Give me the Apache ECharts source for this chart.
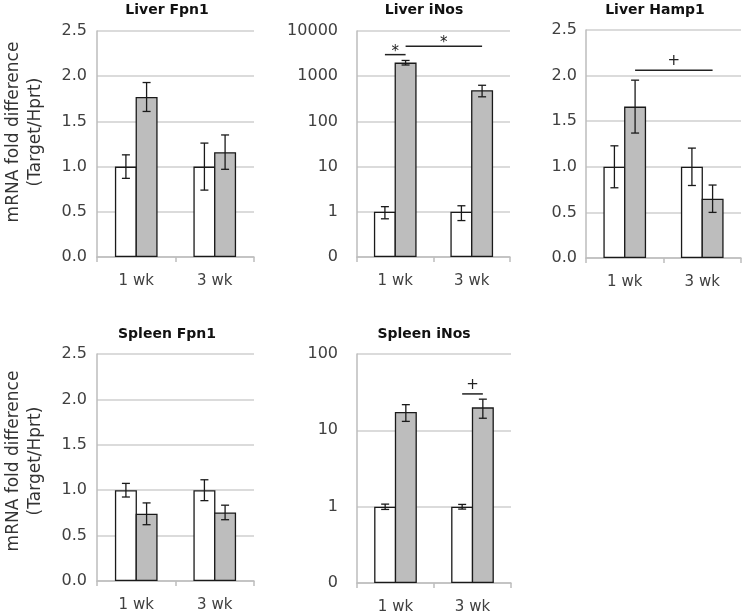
<!DOCTYPE html>
<html><head><meta charset="utf-8">
<script src="https://cdn.jsdelivr.net/npm/echarts@6/dist/echarts.min.js"></script>
<style>html,body{margin:0;padding:0;background:#fff}#c{width:742px;height:615px}</style>
</head><body><div id="c"></div>
<script>
// ---- data ----
const categories = ['1 wk', '3 wk'];
const liverFpn1Ctrl = [1.0, 1.0],  liverFpn1CtrlErr = [0.13, 0.26];
const liverFpn1Inf  = [1.77, 1.16], liverFpn1InfErr = [0.16, 0.19];
const liverINosCtrl = [1, 1],       liverINosCtrlErr = [0.3, 0.36];
const liverINosInf  = [2000, 490],  liverINosInfErr = [230, 140];
const liverHamp1Ctrl = [1, 1],      liverHamp1CtrlErr = [0.23, 0.205];
const liverHamp1Inf  = [1.66, 0.65], liverHamp1InfErr = [0.29, 0.15];
const spleenFpn1Ctrl = [1, 1],      spleenFpn1CtrlErr = [0.075, 0.115];
const spleenFpn1Inf  = [0.74, 0.755], spleenFpn1InfErr = [0.12, 0.08];
const spleenINosCtrl = [1, 1],      spleenINosCtrlErr = [0.08, 0.07];
const spleenINosInf  = [17.4, 20.0], spleenINosInfErr = [4.3, 5.6];
const linearTickLabels = ['0.0', '0.5', '1.0', '1.5', '2.0', '2.5'];
const logTickLabelsLiver = ['0', '1', '10', '100', '1000', '10000'];
const logTickLabelsSpleen = ['0', '1', '10', '100'];
// significance marks: [fromCategory, fromBar(0=ctrl,1=infected), toCategory, toBar, yValue, symbol]
const liverINosMarks = [[0, 0, 0, 1, 3000, '*'], [0, 1, 1, 1, 4600, '*']];
const liverHamp1Marks = [[0, 1, 1, 1, 2.06, '+']];
const spleenINosMarks = [[1, 0, 1, 1, 30, '+']];
const yAxisName = 'mRNA fold difference\n(Target/Hprt)';

// ---- layout / styles ----
const BW = 22;
const GAP = -0.06;
const HALF = BW * (1 + GAP) / 2;
const FONT = 'DejaVu Sans';
const gridColor = '#cfcfcf';
const panels = [
  {title: 'Liver Fpn1', tx: 167, ty: 10, grid: {left: 97, top: 31, width: 157, height: 226}, log: false,
   ctrl: liverFpn1Ctrl, ctrlErr: liverFpn1CtrlErr, inf: liverFpn1Inf, infErr: liverFpn1InfErr, ticks: linearTickLabels, lm: 10, marks: []},
  {title: 'Liver iNos', tx: 424, ty: 10, grid: {left: 357, top: 31, width: 153, height: 226}, log: true, min: 0.1, max: 10000,
   ctrl: liverINosCtrl, ctrlErr: liverINosCtrlErr, inf: liverINosInf, infErr: liverINosInfErr, ticks: logTickLabelsLiver, lm: 19, marks: liverINosMarks},
  {title: 'Liver Hamp1', tx: 655, ty: 10, grid: {left: 586, top: 30, width: 155, height: 228}, log: false,
   ctrl: liverHamp1Ctrl, ctrlErr: liverHamp1CtrlErr, inf: liverHamp1Inf, infErr: liverHamp1InfErr, ticks: linearTickLabels, lm: 9, marks: liverHamp1Marks},
  {title: 'Spleen Fpn1', tx: 167, ty: 334, grid: {left: 97, top: 354, width: 157, height: 227}, log: false,
   ctrl: spleenFpn1Ctrl, ctrlErr: spleenFpn1CtrlErr, inf: spleenFpn1Inf, infErr: spleenFpn1InfErr, ticks: linearTickLabels, lm: 10, marks: []},
  {title: 'Spleen iNos', tx: 424, ty: 334, grid: {left: 357, top: 354, width: 154, height: 229}, log: true, min: 0.1, max: 100,
   ctrl: spleenINosCtrl, ctrlErr: spleenINosCtrlErr, inf: spleenINosInf, infErr: spleenINosInfErr, ticks: logTickLabelsSpleen, lm: 19, marks: spleenINosMarks}
];

const grids = [], xAxes = [], yAxes = [], series = [], graphics = [];
panels.forEach((p, i) => {
  grids.push(Object.assign({containLabel: false}, p.grid));
  xAxes.push({
    gridIndex: i, type: 'category', data: categories,
    axisLine: {show: true, lineStyle: {color: '#bdbdbd', width: 1.5}},
    axisTick: {show: true, length: 5, lineStyle: {color: '#bdbdbd', width: 1.5}},
    axisLabel: {margin: 17, fontSize: 15, fontFamily: FONT, color: '#404040'},
    splitLine: {show: false}
  });
  const ticks = p.ticks;
  const yBase = {
    gridIndex: i,
    axisLine: {show: true, lineStyle: {color: '#bdbdbd', width: 1.5}},
    axisTick: {show: false},
    splitLine: {show: true, lineStyle: {color: gridColor, width: 1.5}},
    axisLabel: {margin: p.lm, fontSize: 16, fontFamily: FONT, color: '#404040'}
  };
  if (p.log) {
    yAxes.push(Object.assign(yBase, {
      type: 'log', logBase: 10, min: p.min, max: p.max, startValue: p.min,
      axisLabel: Object.assign(yBase.axisLabel, {formatter: v => ticks[Math.round(Math.log10(v)) + 1]})
    }));
  } else {
    yAxes.push(Object.assign(yBase, {
      type: 'value', min: 0, max: 2.5, interval: 0.5,
      axisLabel: Object.assign(yBase.axisLabel, {formatter: v => ticks[Math.round(v / 0.5)]})
    }));
  }
  series.push({
    type: 'bar', xAxisIndex: i, yAxisIndex: i, data: p.ctrl, barWidth: BW, barGap: (GAP * 100) + '%',
    itemStyle: {color: '#ffffff', borderColor: '#1a1a1a', borderWidth: 1.3}, silent: true, animation: false
  });
  series.push({
    type: 'bar', xAxisIndex: i, yAxisIndex: i, data: p.inf, barWidth: BW, barGap: (GAP * 100) + '%',
    itemStyle: {color: '#bdbdbd', borderColor: '#1a1a1a', borderWidth: 1.3}, silent: true, animation: false
  });
  const errData = [];
  p.ctrl.forEach((v, k) => errData.push([k, v, p.ctrlErr[k], 0]));
  p.inf.forEach((v, k) => errData.push([k, v, p.infErr[k], 1]));
  series.push({
    type: 'custom', xAxisIndex: i, yAxisIndex: i, data: errData, encode: {x: 0, y: 1}, silent: true, animation: false, z: 5,
    renderItem: (params, api) => {
      const cat = api.value(0), v = api.value(1), e = api.value(2), b = api.value(3);
      const x = api.coord([cat, v])[0] + (b ? 1 : -1) * HALF;
      const yt = api.coord([cat, v + e])[1], yb = api.coord([cat, v - e])[1];
      const st = {stroke: '#1a1a1a', lineWidth: 1.3};
      return {type: 'group', children: [
        {type: 'line', shape: {x1: x, y1: yt, x2: x, y2: yb}, style: st},
        {type: 'line', shape: {x1: x - 4, y1: yt, x2: x + 4, y2: yt}, style: st},
        {type: 'line', shape: {x1: x - 4, y1: yb, x2: x + 4, y2: yb}, style: st}
      ]};
    }
  });
  if (p.marks.length) {
    const marks = p.marks;
    series.push({
      type: 'custom', xAxisIndex: i, yAxisIndex: i, data: marks.map(m => [m[0], m[4]]), encode: {x: 0, y: 1},
      silent: true, animation: false, z: 6,
      renderItem: (params, api) => {
        const m = marks[params.dataIndex];
        const a = api.coord([m[0], m[4]]);
        const b = api.coord([m[2], m[4]]);
        const x1 = a[0] + (m[1] ? 1 : -1) * HALF;
        const x2 = b[0] + (m[3] ? 1 : -1) * HALF;
        const y = a[1];
        const off = m[5] === '*' ? -3 : -9;
        return {type: 'group', children: [
          {type: 'line', shape: {x1: x1, y1: y, x2: x2, y2: y}, style: {stroke: '#222', lineWidth: 1.5}},
          {type: 'text', style: {text: m[5], x: (x1 + x2) / 2, y: y + off, textAlign: 'center', textVerticalAlign: 'middle',
            font: '15px "' + FONT + '"', fill: '#222'}}
        ]};
      }
    });
  }
  graphics.push({type: 'text', x: p.tx, y: p.ty, silent: true,
    style: {text: p.title, textAlign: 'center', textVerticalAlign: 'middle', font: 'bold 14px "' + FONT + '"', fill: '#111'}});
});
// y-axis names
[132, 461].forEach(cy => {
  graphics.push({type: 'text', x: 25, y: cy, rotation: Math.PI / 2, silent: true,
    style: {text: yAxisName, textAlign: 'center', textVerticalAlign: 'middle', font: '17px "' + FONT + '"',
      lineHeight: 22, fill: '#333'}});
});

const chart = echarts.init(document.getElementById('c'), null, {renderer: 'canvas'});
chart.setOption({
  backgroundColor: '#ffffff',
  animation: false,
  grid: grids, xAxis: xAxes, yAxis: yAxes, series: series, graphic: graphics
});
</script></body></html>
